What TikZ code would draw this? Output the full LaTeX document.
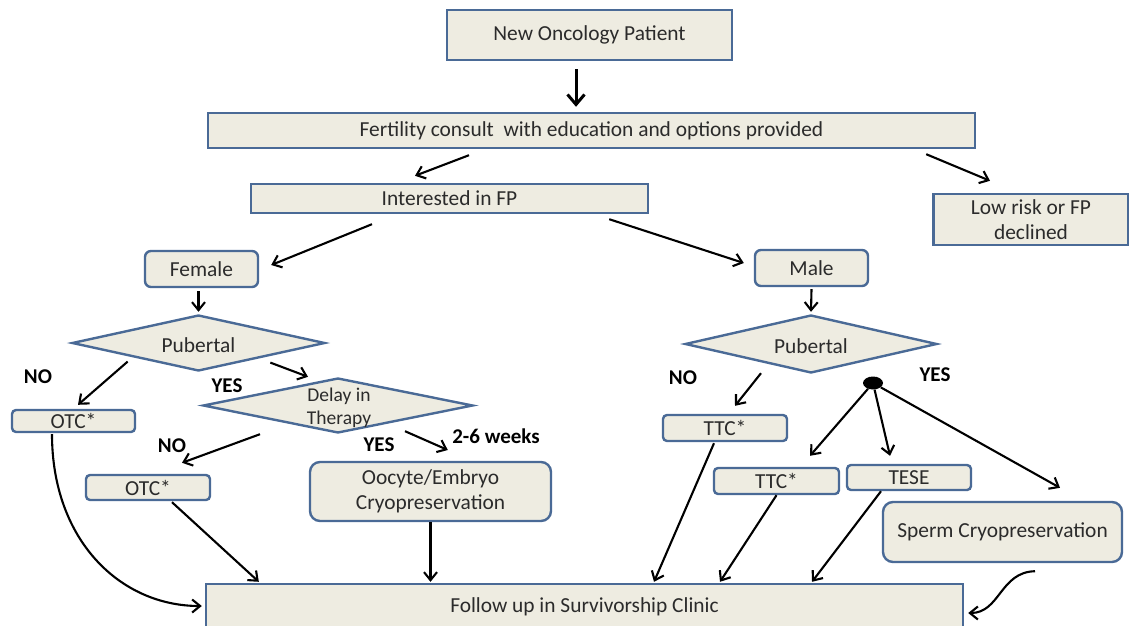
\documentclass[tikz,border=0pt]{standalone}
\usepackage{fontspec}
\setmainfont{Carlito}
\usetikzlibrary{shapes.geometric,arrows.meta,calc}
\definecolor{bfill}{HTML}{EEECE1}
\definecolor{bdraw}{HTML}{4A6A96}
\definecolor{tcol}{HTML}{2B2B2B}
\begin{document}
\begin{tikzpicture}[x=1pt,y=-1pt,
  font=\fontsize{21.4}{25}\selectfont, text=tcol,
  box/.style={draw=bdraw, fill=bfill, line width=2.4pt, inner sep=0pt, rectangle},
  rbox/.style={box, rounded corners=6pt},
  sbox/.style={box, rounded corners=4pt},
  bbox/.style={box, rounded corners=10pt},
  dia/.style={draw=bdraw, fill=bfill, line width=2.4pt, diamond, inner sep=0pt},
  lab/.style={font=\fontsize{21}{25}\selectfont\bfseries, text=black},
  arr/.style={-{Straight Barb[length=8pt,width=13pt]}, line width=2.1pt, black},
  bigarr/.style={-{Straight Barb[length=10pt,width=17pt]}, line width=3pt, black},
]
\useasboundingbox (0,0) rectangle (1129,626);

% boxes
\node[box, minimum width=285, minimum height=50] (new) at (589.5,35) {New Oncology Patient};
\node[box, minimum width=767, minimum height=35] (fert) at (591.5,130.5) {Fertility consult\ \ with education and options provided};
\node[box, minimum width=397, minimum height=29] (int) at (449.5,198.5) {Interested in FP};
\node[box, minimum width=195, minimum height=51, align=center] (low) at (1031,219.5) {Low risk or FP\\declined};
\node[rbox, minimum width=113, minimum height=36] (female) at (201.5,269) {Female};
\node[rbox, minimum width=113, minimum height=36] (male) at (811.5,268) {Male};
\node[dia, minimum width=253, minimum height=56] (fpub) at (198.5,343) {};
\node (fpubt) at (198.5,345) {Pubertal};
\node[dia, minimum width=252, minimum height=58] (mpub) at (811,344) {};
\node (mpubt) at (811,346) {Pubertal};
\node[dia, minimum width=270, minimum height=55] (delay) at (338,405.5) {};
\node[align=center, font=\fontsize{19.5}{23}\selectfont] (delayt) at (339,408) {Delay in\\Therapy};
\node[sbox, minimum width=123, minimum height=22] (otc1) at (73.5,421) {OTC*};
\node[sbox, minimum width=124, minimum height=25] (otc2) at (148,487.5) {OTC*};
\node[sbox, minimum width=124, minimum height=26] (ttc1) at (725,428) {TTC*};
\node[sbox, minimum width=125, minimum height=26] (ttc2) at (776.5,481) {TTC*};
\node[sbox, minimum width=124, minimum height=25] (tese) at (909,477.5) {TESE};
\node[bbox, minimum width=241, minimum height=59, align=center] (oocyte) at (430.5,491.5) {Oocyte/Embryo\\Cryopreservation};
\node[bbox, minimum width=239, minimum height=60] (sperm) at (1002.5,532) {Sperm Cryopreservation};
\node[box, minimum width=757, minimum height=46] (follow) at (584.5,607) {Follow up in Survivorship Clinic};
\node[ellipse, fill=black, minimum width=20pt, minimum height=13pt, inner sep=0pt] (dot) at (873,383) {};

% labels
\node[lab] (no1) at (38,377) {NO};
\node[lab] (yes1) at (227,386) {YES};
\node[lab] (no2) at (172,446) {NO};
\node[lab] (yes2) at (379,445) {YES};
\node[lab] (weeks) at (496,436) {2-6 weeks};
\node[lab] (no3) at (683,378) {NO};
\node[lab] (yes3) at (935,375) {YES};

% connectors
\draw[bigarr] ($(new.south)+(-13.5,8)$) -- ($(fert.north)+(-15.5,-5)$);
\draw[arr] ($(fert.south)+(-122.5,6)$) -- ($(int.north)+(-34.5,-7)$);
\draw[arr] ($(fert.south east)+(-50,5)$) -- ($(low.north)+(-41,-12)$);
\draw[arr] ($(int.south)+(-77.5,10)$) -- ($(female.east)+(12,-4)$);
\draw[arr] ($(int.south east)+(-40,5)$) -- ($(male.west)+(-10,-5)$);
\draw[arr] ($(female.south)+(-3,3)$) -- ($(fpub.north)+(0,-2)$);
\draw[arr] ($(male.south)+(0,2)$) -- ($(mpub.north)+(0,-2)$);
\draw[arr] ($(fpub.south west)+(-7,4)$) -- ($(otc1.north)+(4.5,-4)$);
\draw[arr] ($(fpub.south east)+(8,5)$) -- ($(delay.north)+(-30,0)$);
\draw[arr] ($(delay.south)+(-78,0)$) -- ($(otc2.north)+(34,-11)$);
\draw[arr] ($(delay.south)+(67,-3)$) -- ($(weeks.west)+(-1,14)$);
\draw[arr] ($(otc1.south)+(-21.5,1)$) .. controls (52,540) and (120,606) .. ($(follow.west)+(-3,-1)$);
\draw[arr] ($(otc2.south)+(24,1)$) -- ($(follow.north west)+(54,-1)$);
\draw[arr] (oocyte.south) -- ($(oocyte.south |- follow.north)+(0,-1)$);
\draw[arr] ($(mpub.south)+(-50,-1)$) -- ($(ttc1.north)+(10,-8)$);
\draw[arr] (dot) -- ($(ttc2.north)+(33.5,-11)$);
\draw[arr] (dot) -- ($(tese.north)+(-19,-8)$);
\draw[arr] (dot) -- ($(sperm.north)+(57.5,-13)$);
\draw[arr] ($(ttc1.south)+(-11,1)$) -- ($(follow.north)+(69.5,-1)$);
\draw[arr] (ttc2.south) -- ($(follow.north)+(135.5,-1)$);
\draw[arr] ($(tese.south)+(-28,0)$) -- ($(follow.north)+(227.5,-1)$);
\draw[arr] ($(sperm.south)+(32.5,8)$) .. controls (1000,572) and (1000,613) .. ($(follow.east)+(4,6)$);
\end{tikzpicture}
\end{document}
